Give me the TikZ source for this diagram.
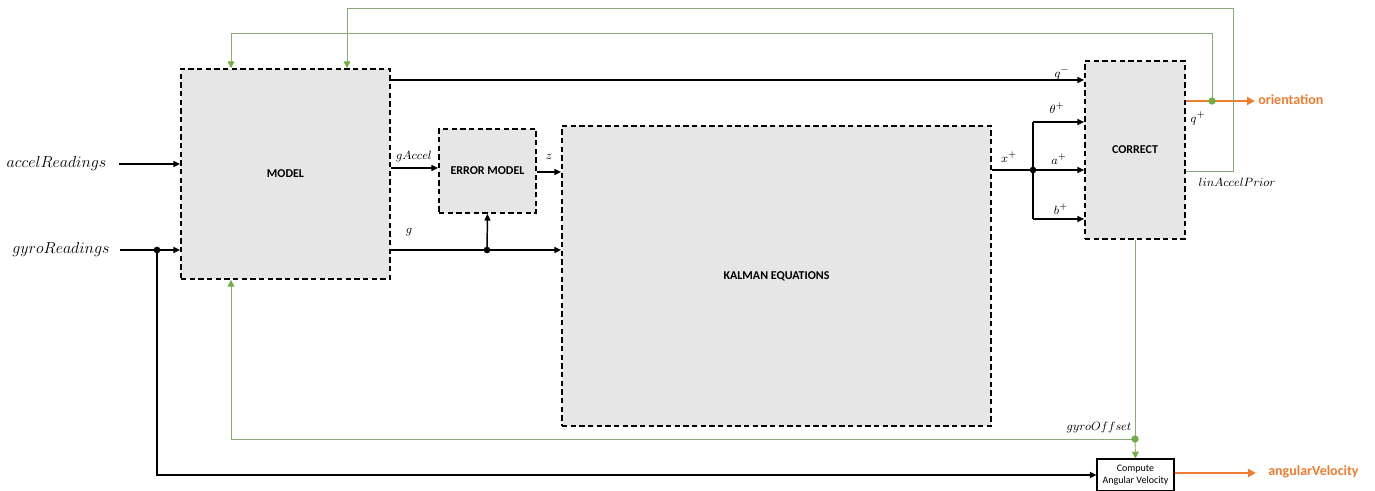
\documentclass[tikz,border=0pt]{standalone}
\usepackage{fontspec}
\newfontfamily\calib{Carlito}
\usetikzlibrary{arrows.meta,calc}
\definecolor{boxgray}{RGB}{230,230,230}
\definecolor{fbgreen}{RGB}{112,173,71}
\definecolor{linegreen}{RGB}{140,170,120}
\definecolor{orng}{RGB}{237,125,49}
\begin{document}
\begin{tikzpicture}[x=0.75pt,y=-0.75pt,
 blk/.style={draw=black, dash pattern=on 4pt off 2.5pt, line width=1.3pt, fill=boxgray,
   font=\calib\bfseries\fontsize{9}{10}\selectfont, inner sep=0pt},
 arr/.style={line width=1.1pt, -{Triangle[length=5pt,width=4.5pt]}},
 ln/.style={line width=1.1pt},
 garr/.style={draw=linegreen, line width=0.7pt, -{Triangle[length=5pt,width=5pt,fill=fbgreen,color=fbgreen]}},
 gln/.style={draw=linegreen, line width=0.7pt},
 oarr/.style={draw=orng, line width=2.2pt, -{Triangle[length=6pt,width=6pt]}},
 lbl/.style={font=\fontsize{9.5}{11}\selectfont, inner sep=0pt},
 inlbl/.style={font=\fontsize{11.5}{13}\selectfont, inner sep=0pt},
 olbl/.style={text=orng, font=\calib\bfseries\fontsize{10.5}{12}\selectfont, anchor=west, inner sep=0pt},
 dot/.style={circle, fill=black, inner sep=0pt, minimum size=5pt},
 gdot/.style={circle, fill=fbgreen, inner sep=0pt, minimum size=5.5pt},
 cbox/.style={draw=black, line width=0.8pt, fill=white, align=center, inner sep=0pt,
   font=\calib\fontsize{7.5}{9.5}\selectfont},
]
\useasboundingbox (0,0) rectangle (1375,491);

% boxes
\node[blk, minimum width=156.75pt, minimum height=157.5pt] (model) at (285.5,174) {MODEL};
\node[blk, minimum width=72.75pt, minimum height=63pt] (err) at (487.5,171) {ERROR MODEL};
\node[blk, minimum width=321.75pt, minimum height=225pt] (kal) at (776.5,276) {KALMAN EQUATIONS};
\node[blk, minimum width=75pt, minimum height=133.5pt] (cor) at (1135,150) {CORRECT};
\node[cbox, minimum width=57.75pt, minimum height=24pt] (cav) at (1135.5,475) {Compute\\Angular Velocity};

% input labels
\node[inlbl] (acc) at (56.5,164) {$accelReadings$};
\node[inlbl] (gyr) at (61,250) {$gyroReadings$};

% coordinates
\coordinate (gdot0) at (157,250);
\coordinate (gsplit) at (487,250);
\coordinate (xsplit) at (1033,170);
\coordinate (odot0) at (1212,101);
\coordinate (godot0) at (1135,439);

% inputs
\draw[arr] (119,164) -- (model.west |- 0,164);
\draw[arr] (gyr.east) ++(10,0) -- (model.west |- 0,250);
\node[dot] (gd) at (gdot0) {};
\draw[arr] (gd.center) -- (157,475) -- (cav.west |- 0,475);

% model outputs
\draw[arr] (model.east |- 0,80) -- (cor.west |- 0,80);
\draw[arr] (model.east |- 0,168) -- (err.west |- 0,168);
\draw[arr] (err.east |- 0,172) -- (kal.west |- 0,172);
\draw[arr] (model.east |- 0,250) -- (kal.west |- 0,250);
\node[dot] (gs) at (gsplit) {};
\draw[arr] (gs.center) -- (err.south);

% kalman to correct
\node[dot] (xs) at (xsplit) {};
\draw[ln] (kal.east |- 0,170) -- (xs.center);
\draw[ln] (1033,122) -- (1033,219);
\draw[arr] (1033,122) -- (cor.west |- 0,122);
\draw[arr] (xs.center) -- (cor.west |- 0,170);
\draw[arr] (1033,219) -- (cor.west |- 0,219);

% outputs
\draw[oarr] (cor.east |- 0,101) -- (1255,101);
\node[olbl] (orient) at (1258,100) {orientation};
\draw[oarr] (cav.east |- 0,473) -- (1256,473);
\node[olbl] (angv) at (1268,472) {angularVelocity};

% green feedback
\draw[garr] (odot0) -- (1212,33) -- (231,33) -- (231,0 |- model.north);
\draw[garr] (cor.east |- 0,171) -- (1233,171) -- (1233,8) -- (347,8) -- (347,0 |- model.north);
\draw[gln] (cor.south) -- (godot0);
\draw[garr] (godot0) -- (cav.north);
\draw[garr] (godot0) -- (231,439) -- (231,0 |- model.south);
\node[gdot] (od) at (odot0) {};
\node[gdot] (god) at (godot0) {};

% labels
\node[lbl] (lgacc) at (414,157) {$gAccel$};
\node[lbl] (lz) at (549,157) {$z$};
\node[lbl] (lg) at (409,232) {$g$};
\node[lbl] (lqm) at (1062,73) {$q^-$};
\node[lbl] (lth) at (1057,108) {$\theta^+$};
\node[lbl] (la) at (1059,159) {$a^+$};
\node[lbl] (lb) at (1061,209) {$b^+$};
\node[lbl] (lx) at (1009,157) {$x^+$};
\node[lbl] (lqp) at (1198,118) {$q^+$};
\node[lbl] (llin) at (1237,182) {$linAccelPrior$};
\node[lbl] (lgo) at (1099,428) {$gyroOffset$};
\end{tikzpicture}
\end{document}
